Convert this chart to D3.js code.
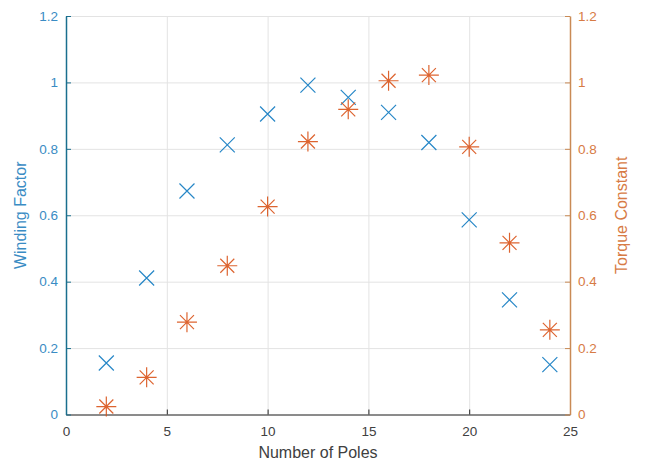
<html lang="en">
<head>
    <meta charset="UTF-8">
    <title>Winding Factor and Torque Constant</title>
    <style>
        body { margin: 0; background: #fff; font-family: "Liberation Sans", Arial, sans-serif; }
        .grid line { stroke: #e3e3e3; stroke-width: 1; }
        .grid path { display: none; }
    </style>
</head>
<body>
    <div id="chart"></div>
    <script src="https://d3js.org/d3.v7.min.js"></script>
    <script>
        // data
        const poles = [2, 4, 6, 8, 10, 12, 14, 16, 18, 20, 22, 24];
        const windingFactor = [0.155, 0.411, 0.673, 0.812, 0.905, 0.992, 0.955, 0.910, 0.819, 0.586, 0.345, 0.150];
        const torqueConstant = [0.024, 0.112, 0.278, 0.448, 0.626, 0.822, 0.919, 1.005, 1.022, 0.806, 0.517, 0.255];
        const xTicks = [0, 5, 10, 15, 20, 25];
        const yTicks = [0, 0.2, 0.4, 0.6, 0.8, 1, 1.2];

        const width = 652, height = 464;
        const margin = { top: 16, right: 82, bottom: 49.5, left: 66 };
        const w = width - margin.left - margin.right;
        const h = height - margin.top - margin.bottom;

        const blue = '#0072BD', orange = '#D95319';
        const blueText = '#3a8cc4', orangeText = '#d77b45';

        const svg = d3.select('#chart').append('svg')
            .attr('width', width).attr('height', height)
            .append('g')
            .attr('transform', `translate(${margin.left}, ${margin.top})`);

        const x = d3.scaleLinear().domain([0, 25]).range([0, w]);
        const yL = d3.scaleLinear().domain([0, 1.2]).range([h, 0]);
        const yR = d3.scaleLinear().domain([0, 1.2]).range([h, 0]);

        // grid
        svg.append('g').attr('class', 'grid')
            .attr('transform', `translate(0, ${h})`)
            .call(d3.axisBottom(x).tickValues(xTicks).tickSize(-h).tickFormat(''));
        svg.append('g').attr('class', 'grid')
            .call(d3.axisLeft(yL).tickValues(yTicks).tickSize(-w).tickFormat(''));

        // axes
        const fmt = d => d3.format('~g')(d);
        const xAxis = svg.append('g')
            .attr('transform', `translate(0, ${h})`)
            .call(d3.axisBottom(x).tickValues(xTicks).tickSizeInner(-5).tickSizeOuter(0).tickPadding(12).tickFormat(fmt));
        xAxis.select('.domain').attr('stroke', '#262626');
        xAxis.selectAll('line').attr('stroke', '#262626');
        xAxis.selectAll('text').attr('fill', '#404040').style('font-size', '13.5px');

        const leftAxis = svg.append('g')
            .call(d3.axisLeft(yL).tickValues(yTicks).tickSizeInner(-5).tickSizeOuter(0).tickPadding(8).tickFormat(fmt));
        leftAxis.select('.domain').attr('stroke', '#1a6f8e').attr('stroke-width', 1.5);
        leftAxis.selectAll('line').attr('stroke', '#1a6f8e');
        leftAxis.selectAll('text').attr('fill', blueText).style('font-size', '13.5px');

        const rightAxis = svg.append('g')
            .attr('transform', `translate(${w}, 0)`)
            .call(d3.axisRight(yR).tickValues(yTicks).tickSizeInner(-5).tickSizeOuter(0).tickPadding(8).tickFormat(fmt));
        rightAxis.select('.domain').attr('stroke', '#c98a55').attr('stroke-width', 1.5);
        rightAxis.selectAll('line').attr('stroke', '#c98a55');
        rightAxis.selectAll('text').attr('fill', orangeText).style('font-size', '13.5px');

        // axis labels
        svg.append('text')
            .attr('x', w / 2).attr('y', h + 43)
            .attr('text-anchor', 'middle')
            .attr('fill', '#404040')
            .style('font-size', '16px')
            .text('Number of Poles');
        svg.append('text')
            .attr('transform', `translate(${-40}, ${h / 2}) rotate(-90)`)
            .attr('text-anchor', 'middle')
            .attr('fill', blueText)
            .style('font-size', '16px')
            .text('Winding Factor');
        svg.append('text')
            .attr('transform', `translate(${w + 57}, ${h / 2}) rotate(-90)`)
            .attr('text-anchor', 'middle')
            .attr('fill', orangeText)
            .style('font-size', '16px')
            .text('Torque Constant');

        // blue x markers
        const s = 7.5;
        svg.selectAll('.cross')
            .data(poles.map((p, i) => [p, windingFactor[i]]))
            .enter().append('path')
            .attr('class', 'cross')
            .attr('transform', d => `translate(${x(d[0])}, ${yL(d[1])})`)
            .attr('d', `M${-s},${-s}L${s},${s}M${-s},${s}L${s},${-s}`)
            .attr('stroke', blue).attr('stroke-width', 1.2).attr('fill', 'none')
            .attr('opacity', 0.85);

        // orange asterisks
        const r = 10, d2 = 7;
        svg.selectAll('.star')
            .data(poles.map((p, i) => [p, torqueConstant[i]]))
            .enter().append('path')
            .attr('class', 'star')
            .attr('transform', d => `translate(${x(d[0])}, ${yR(d[1])})`)
            .attr('d', `M${-r},0L${r},0M0,${-r}L0,${r}M${-d2},${-d2}L${d2},${d2}M${-d2},${d2}L${d2},${-d2}`)
            .attr('stroke', orange).attr('stroke-width', 1.2).attr('fill', 'none')
            .attr('opacity', 0.9);
    </script>
</body>
</html>
